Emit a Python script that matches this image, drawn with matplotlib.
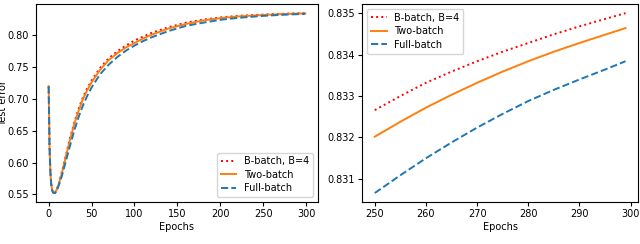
import matplotlib
matplotlib.use("Agg")
import matplotlib.pyplot as plt

# values
epochs = [0, 1, 2, 3, 4, 5, 6, 7, 8, 10, 12, 15, 20, 25, 30, 35, 40, 45, 50,
          60, 70, 80, 90, 100, 110, 120, 140, 160, 180, 200, 220, 240,
          250, 255, 260, 265, 270, 275, 280, 285, 290, 295, 299]

b_batch = [0.720, 0.625, 0.585, 0.566, 0.557, 0.553, 0.552, 0.552, 0.554, 0.560,
           0.568, 0.583, 0.611, 0.639, 0.664, 0.685, 0.703, 0.717, 0.729,
           0.749, 0.764, 0.775, 0.784, 0.792, 0.798, 0.804, 0.813, 0.820, 0.8248,
           0.8282, 0.8306, 0.8320,
           0.83266, 0.83300, 0.83332, 0.83359, 0.83384, 0.83407, 0.83428,
           0.83449, 0.83468, 0.83486, 0.83500]

two_batch = [0.720, 0.625, 0.585, 0.566, 0.557, 0.553, 0.552, 0.552, 0.554, 0.559,
             0.567, 0.581, 0.609, 0.636, 0.661, 0.682, 0.700, 0.714, 0.726,
             0.746, 0.761, 0.772, 0.781, 0.788, 0.795, 0.801, 0.811, 0.818, 0.8235,
             0.8272, 0.8297, 0.8313,
             0.83202, 0.83238, 0.83272, 0.83303, 0.83332, 0.83359, 0.83384,
             0.83407, 0.83428, 0.83448, 0.83464]

full_batch = [0.720, 0.625, 0.585, 0.566, 0.557, 0.553, 0.552, 0.552, 0.553, 0.558,
              0.565, 0.577, 0.602, 0.627, 0.651, 0.672, 0.690, 0.705, 0.718,
              0.739, 0.754, 0.766, 0.776, 0.784, 0.791, 0.797, 0.807, 0.815, 0.820,
              0.8245, 0.8275, 0.8297,
              0.83066, 0.83109, 0.83150, 0.83188, 0.83224, 0.83257, 0.83288,
              0.83315, 0.83340, 0.83364, 0.83384]

labels = ["B-batch, B=4", "Two-batch", "Full-batch"]

plt.rcParams['font.size'] = 7

fig = plt.figure(figsize=(6.4, 2.44), dpi=100)
ax1 = fig.add_axes([0.056, 0.172, 0.441, 0.811])
ax2 = fig.add_axes([0.566, 0.172, 0.431, 0.811])

def draw(ax, start):
    idx = [i for i, e in enumerate(epochs) if e >= start]
    x = [epochs[i] for i in idx]
    ax.plot(x, [b_batch[i] for i in idx], ':', color='red', lw=1.4, label=labels[0])
    ax.plot(x, [two_batch[i] for i in idx], '-', color='tab:orange', lw=1.4, label=labels[1])
    ax.plot(x, [full_batch[i] for i in idx], '--', color='tab:blue', lw=1.4, label=labels[2])
    ax.set_xlabel("Epochs", labelpad=2)
    ax.tick_params(length=3, pad=2)

draw(ax1, 0)
ax1.set_ylabel("Test error")
ax1.yaxis.set_label_coords(-0.097, 0.5)
ax1.set_xticks([0, 50, 100, 150, 200, 250, 300])
ax1.set_yticks([0.55, 0.60, 0.65, 0.70, 0.75, 0.80])
ax1.legend(loc='lower right', fontsize=7, handlelength=1.6, labelspacing=0.35)

draw(ax2, 250)
ax2.set_xticks([250, 260, 270, 280, 290, 300])
ax2.set_yticks([0.831, 0.832, 0.833, 0.834, 0.835])
ax2.legend(loc='upper left', fontsize=7, handlelength=1.6, labelspacing=0.35)

fig.savefig("out.png", dpi=100)
